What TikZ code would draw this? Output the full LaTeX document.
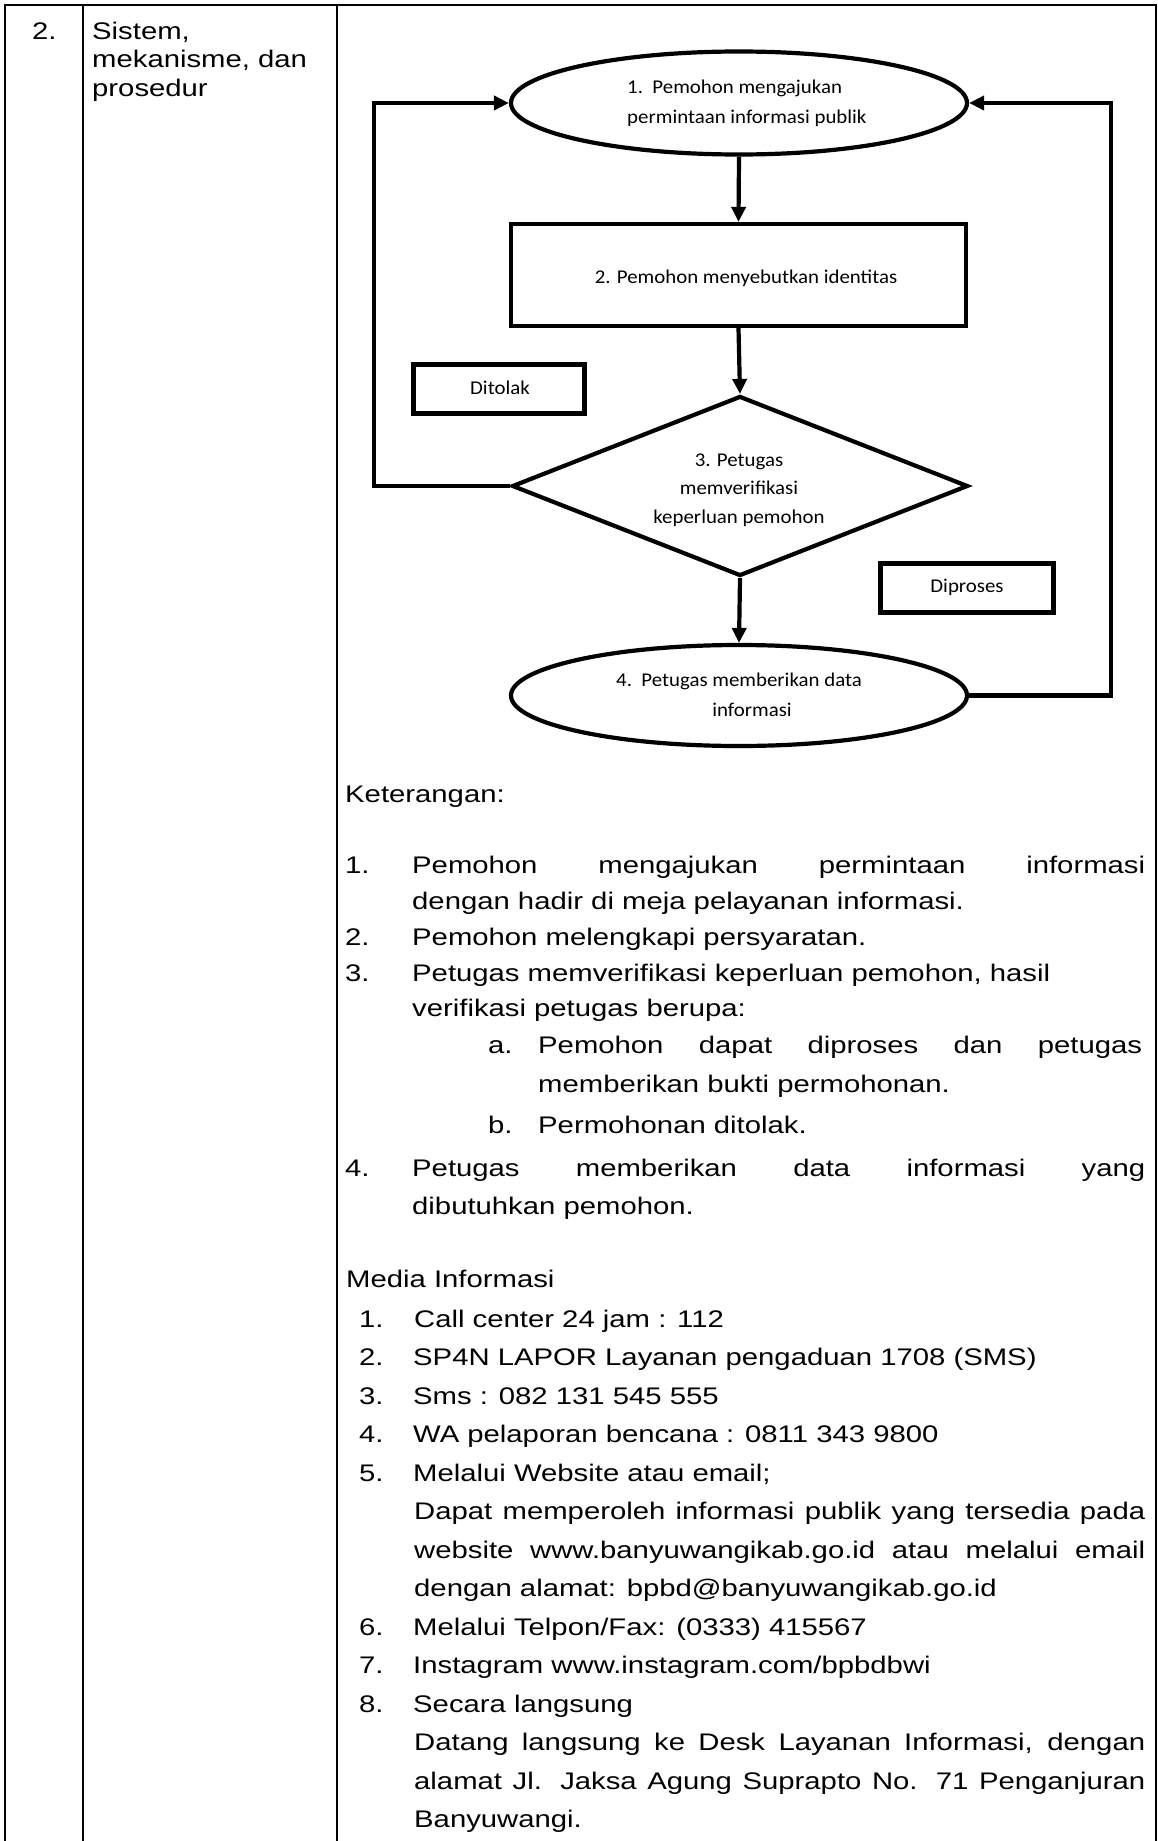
\documentclass[tikz,border=0pt]{standalone}
\usepackage{fontspec}
\setmainfont{Liberation Sans}[FakeStretch=1.22]
\newfontfamily\flowfont{Carlito}[FakeStretch=1.07]
\usetikzlibrary{shapes.geometric,arrows.meta}
\begin{document}
\begin{tikzpicture}[x=1pt,y=-1pt,
  tbl/.style={line width=2pt},
  flowline/.style={draw, line width=4.2pt, inner sep=0pt},
  conn/.style={line width=4.2pt, line join=miter, -{Triangle[length=15pt,width=14pt]}},
  body/.style={anchor=base west, inner sep=0pt, font=\fontsize{24}{28}\selectfont},
  ftext/.style={anchor=base, inner sep=0pt, font=\flowfont\fontsize{19.5}{23}\selectfont},
  ftextl/.style={ftext, anchor=base west}]
\useasboundingbox (0,0) rectangle (1157,1841);
% table
\draw[tbl] (5,1841) -- (5,5) -- (1157,5);
\draw[tbl] (83,5) -- (83,1841);
\draw[tbl] (337,5) -- (337,1841);
\draw[tbl] (1156,5) -- (1156,1841);
% header
\node[body] (no) at (32,40) {2.};
\node[body] (h1) at (92,40) {Sistem,};
\node[body] (h2) at (92,68) {mekanisme, dan};
\node[body] (h3) at (92,97) {prosedur};
% flowchart shapes
\node[ellipse, flowline, minimum width=456pt, minimum height=103pt] (e1) at (739,103) {};
\node[rectangle, flowline, minimum width=455pt, minimum height=102pt] (r2) at (738.5,275) {};
\node[diamond, flowline, minimum width=456pt, minimum height=180pt] (d3) at (740,486) {};
\node[ellipse, flowline, minimum width=456pt, minimum height=101pt] (e4) at (739,695.5) {};
\node[rectangle, flowline, minimum width=171pt, minimum height=49pt] (tolak) at (499,389) {};
\node[rectangle, flowline, minimum width=173pt, minimum height=49pt] (proses) at (967,588) {};
% flowchart texts
\node[ftextl] (t1a) at (627,94) {1.\ \ Pemohon mengajukan};
\node[ftextl] (t1b) at (627,124) {permintaan informasi publik};
\node[ftext] (t2) at (746,283) {2. Pemohon menyebutkan identitas};
\node[ftext] (tt) at (500,394) {Ditolak};
\node[ftext] (t3a) at (739,466) {3. Petugas};
\node[ftext] (t3b) at (739,494) {memverifikasi};
\node[ftext] (t3c) at (739,523) {keperluan pemohon};
\node[ftext] (tp) at (967,592) {Diproses};
\node[ftext] (t4a) at (739,686) {4.\ \ Petugas memberikan data};
\node[ftext] (t4b) at (752,716) {informasi};
% connectors
\draw[conn] (e1.south) -- (r2.north);
\draw[conn] (r2.south) -- (d3.north);
\draw[conn] (d3.south) -- (e4.north);
\coordinate (lb) at (374,486);
\coordinate (lt) at (374,103);
\draw[conn] (d3.west) -- (lb) -- (lt) -- (e1.west);
\coordinate (rb) at (1111,695.5);
\coordinate (rt) at (1111,103);
\draw[conn] (e4.east) -- (rb) -- (rt) -- (e1.east);
% Keterangan
\node[body] (ket) at (345,802) {Keterangan:};
\node[body] (k1n) at (345,873) {1.};
\node[body] (k1a) at (412,873) {\makebox[733pt][s]{Pemohon mengajukan permintaan informasi}};
\node[body] (k1b) at (412,909) {dengan hadir di meja pelayanan informasi.};
\node[body] (k2n) at (345,945) {2.};
\node[body] (k2a) at (412,945) {Pemohon melengkapi persyaratan.};
\node[body] (k3n) at (345,981) {3.};
\node[body] (k3a) at (412,981) {Petugas memverifikasi keperluan pemohon, hasil};
\node[body] (k3b) at (412,1016) {verifikasi petugas berupa:};
\node[body] (kan) at (488,1053) {a.};
\node[body] (kaa) at (538,1053) {\makebox[604pt][s]{Pemohon dapat diproses dan petugas}};
\node[body] (kab) at (538,1092) {memberikan bukti permohonan.};
\node[body] (kbn) at (488,1133) {b.};
\node[body] (kba) at (538,1133) {Permohonan ditolak.};
\node[body] (k4n) at (345,1176) {4.};
\node[body] (k4a) at (412,1176) {\makebox[733pt][s]{Petugas memberikan data informasi yang}};
\node[body] (k4b) at (412,1214) {dibutuhkan pemohon.};
% Media
\node[body] (med) at (346,1287) {Media Informasi};
\node[body] (m1n) at (359,1327) {1.};
\node[body] (m1a) at (414,1327) {Call center 24 jam : 112};
\node[body] (m2n) at (359,1365.5) {2.};
\node[body] (m2a) at (413,1365.5) {SP4N LAPOR Layanan pengaduan 1708 (SMS)};
\node[body] (m3n) at (359,1404) {3.};
\node[body] (m3a) at (413,1404) {Sms : 082 131 545 555};
\node[body] (m4n) at (359,1442.5) {4.};
\node[body] (m4a) at (413,1442.5) {WA pelaporan bencana : 0811 343 9800};
\node[body] (m5n) at (359,1481) {5.};
\node[body] (m5a) at (413,1481) {Melalui Website atau email;};
\node[body] (m5b) at (414,1519.5) {\makebox[731pt][s]{Dapat memperoleh informasi publik yang tersedia pada}};
\node[body] (m5c) at (414,1558) {\makebox[731pt][s]{website www.banyuwangikab.go.id atau melalui email}};
\node[body] (m5d) at (414,1596.5) {dengan alamat: bpbd@banyuwangikab.go.id};
\node[body] (m6n) at (359,1635) {6.};
\node[body] (m6a) at (413,1635) {Melalui Telpon/Fax: (0333) 415567};
\node[body] (m7n) at (359,1673.5) {7.};
\node[body] (m7a) at (413,1673.5) {Instagram www.instagram.com/bpbdbwi};
\node[body] (m8n) at (359,1712) {8.};
\node[body] (m8a) at (413,1712) {Secara langsung};
\node[body] (m8b) at (414,1750.5) {\makebox[731pt][s]{Datang langsung ke Desk Layanan Informasi, dengan}};
\node[body] (m8c) at (414,1789) {\makebox[731pt][s]{alamat Jl. Jaksa Agung Suprapto No. 71 Penganjuran}};
\node[body] (m8d) at (414,1827.5) {Banyuwangi.};
\end{tikzpicture}
\end{document}
